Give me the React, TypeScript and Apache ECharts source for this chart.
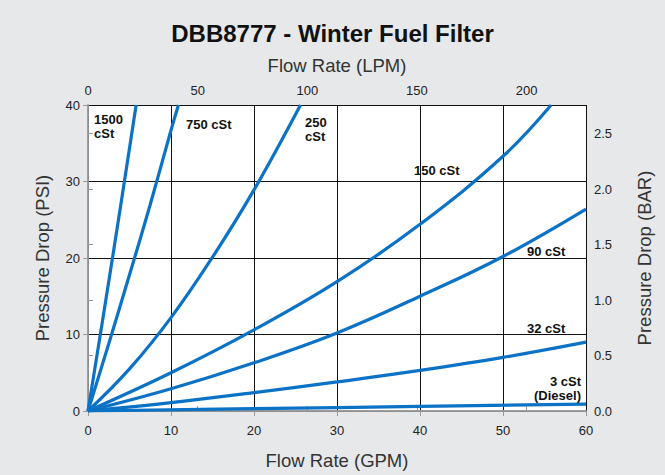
import React, { useEffect, useRef } from "react";
import * as echarts from "echarts";

const gpmTicks = [0, 10, 20, 30, 40, 50, 60];
const curve1500: [number, number][] = [[0, 0], [2, 13.5], [4, 27.3], [5.8, 40]];
const curve750: [number, number][] = [[0, 0], [2.5, 8.8], [5, 17.8], [7.5, 27], [10, 36.7], [10.9, 40]];
const curve250: [number, number][] = [[0, 0], [5, 5.5], [10, 12.2], [15, 20.1], [20, 28.9], [25.6, 40]];
const curve150: [number, number][] = [[0, 0], [10, 5.0], [20, 10.6], [30, 16.9], [40, 24.4], [50, 33.3], [55.8, 40]];
const curve90: [number, number][] = [[0, 0], [10, 2.9], [20, 6.3], [30, 10.2], [40, 15.0], [50, 20.2], [60, 26.4]];
const curve32: [number, number][] = [[0, 0], [10, 1.1], [20, 2.4], [30, 3.8], [40, 5.3], [50, 7.0], [60, 9.0]];
const curve3: [number, number][] = [[0, 0], [20, 0.3], [40, 0.6], [60, 0.9]];

const LPM_PER_GPM = 3.785;
const BAR_PER_PSI = 0.0689476;

const FONT = "Liberation Sans";
const BLUE = "#0b72c6";

export default function App() {
  const ref = useRef<HTMLDivElement>(null);
  useEffect(() => {
    const chart = echarts.init(ref.current!, null, { renderer: "svg" });
    const lineSeries = (data: [number, number][]) => ({
      type: "line",
      data,
      smooth: 0.4,
      showSymbol: false,
      symbol: "none",
      lineStyle: { color: BLUE, width: 3.2 },
      xAxisIndex: 0,
      yAxisIndex: 0,
      z: 3,
    });
    const lbl = (text: string, x: number, y: number, align = "left") => ({
      type: "text",
      x,
      y,
      style: {
        text,
        fontFamily: FONT,
        fontSize: 13,
        fontWeight: "bold",
        fill: "#111",
        align,
        textAlign: align,
        lineHeight: 14,
      },
      z: 10,
    });
    const axisLabel = { color: "#222", fontSize: 13, fontFamily: FONT };
    const axisName = { color: "#333", fontSize: 18.5, fontFamily: FONT };
    chart.setOption({
      animation: false,
      backgroundColor: "#e6e8ea",
      title: {
        text: "DBB8777 - Winter Fuel Filter",
        left: "center",
        top: 16,
        textStyle: { fontSize: 24, fontWeight: "bold", color: "#111", fontFamily: FONT },
      },
      grid: { left: 88, right: 79, top: 105, bottom: 63, show: true, backgroundColor: "#fff", borderWidth: 0 },
      xAxis: [
        {
          type: "value",
          min: 0,
          max: 60,
          interval: 10,
          position: "bottom",
          name: "Flow Rate (GPM)",
          nameLocation: "middle",
          nameGap: 40,
          nameTextStyle: axisName,
          axisLine: { show: true, lineStyle: { color: "#999", width: 1.5 } },
          axisTick: { show: true, length: 5, lineStyle: { color: "#999" } },
          axisLabel: { ...axisLabel, margin: 13 },
          splitLine: { show: true, lineStyle: { color: "#111", width: 1 } },
        },
        {
          type: "value",
          min: 0,
          max: 60 * LPM_PER_GPM,
          interval: 50,
          position: "top",
          name: "Flow Rate (LPM)",
          nameLocation: "middle",
          nameGap: 30,
          nameTextStyle: axisName,
          axisLine: { show: true, lineStyle: { color: "#999", width: 1.5 } },
          axisTick: { show: true, length: 5, lineStyle: { color: "#999" } },
          axisLabel: { ...axisLabel, margin: 8, showMaxLabel: false },
          splitLine: { show: false },
        },
      ],
      yAxis: [
        {
          type: "value",
          min: 0,
          max: 40,
          interval: 10,
          position: "left",
          name: "Pressure Drop (PSI)",
          nameLocation: "middle",
          nameGap: 36,
          nameTextStyle: axisName,
          axisLine: { show: true, lineStyle: { color: "#999", width: 1.5 } },
          axisTick: { show: true, length: 5, lineStyle: { color: "#999" } },
          axisLabel: { ...axisLabel, margin: 8 },
          splitLine: { show: true, lineStyle: { color: "#111", width: 1 } },
        },
        {
          type: "value",
          min: 0,
          max: 40 * BAR_PER_PSI,
          interval: 0.5,
          position: "right",
          name: "Pressure Drop (BAR)",
          nameLocation: "middle",
          nameGap: 49,
          nameRotate: 90,
          nameTextStyle: axisName,
          axisLine: { show: true, lineStyle: { color: "#999", width: 1.5 } },
          axisTick: { show: true, length: 5, lineStyle: { color: "#999" } },
          axisLabel: {
            ...axisLabel,
            margin: 8,
            showMaxLabel: false,
            formatter: (v: number) => v.toFixed(1),
          },
          splitLine: { show: false },
        },
      ],
      series: [
        lineSeries(curve1500),
        lineSeries(curve750),
        lineSeries(curve250),
        lineSeries(curve150),
        lineSeries(curve90),
        lineSeries(curve32),
        lineSeries(curve3),
      ],
      graphic: [
        lbl("1500\ncSt", 94, 112),
        lbl("750 cSt", 186, 117),
        lbl("250\ncSt", 305, 115),
        lbl("150 cSt", 414, 163),
        lbl("90 cSt", 527, 244),
        lbl("32 cSt", 527, 321),
        lbl("3 cSt\n(Diesel)", 581, 374, "right"),
      ],
    });
    return () => chart.dispose();
  }, []);
  return <div ref={ref} style={{ position: "fixed", left: 0, top: 0, width: 665, height: 475 }} />;
}
